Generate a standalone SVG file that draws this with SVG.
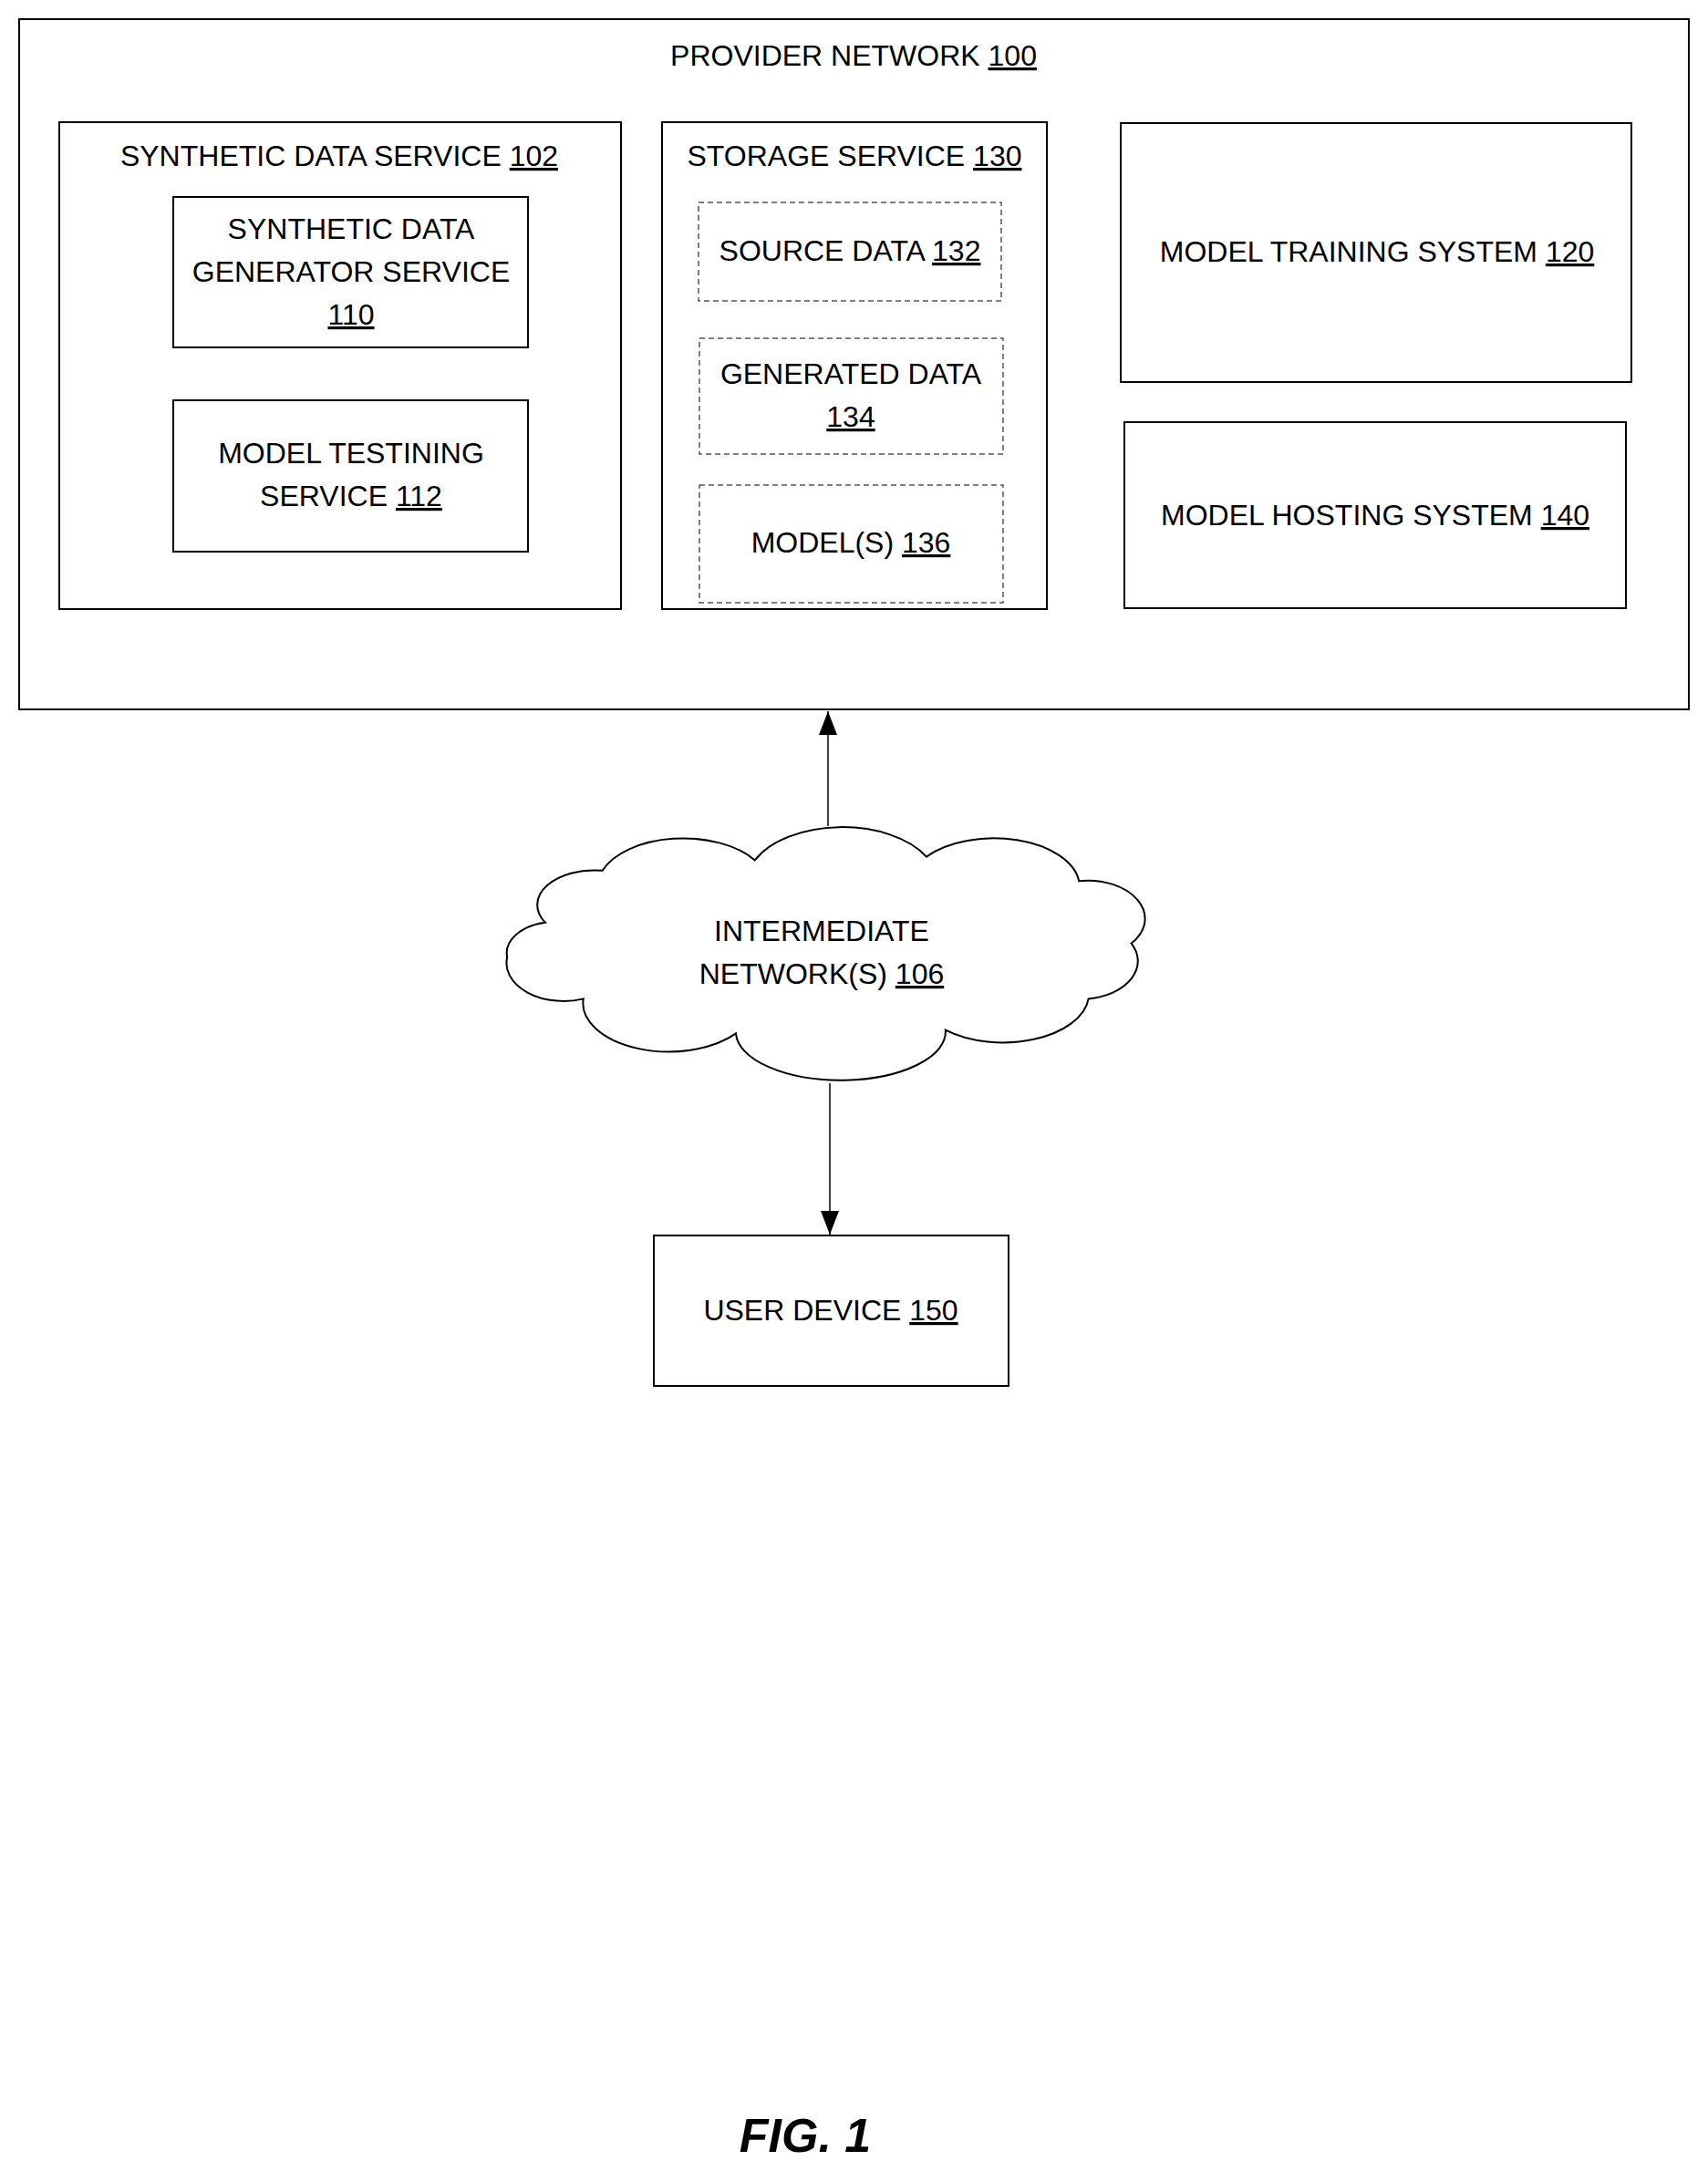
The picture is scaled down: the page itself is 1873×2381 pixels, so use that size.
<svg xmlns="http://www.w3.org/2000/svg" width="1873" height="2381" viewBox="0 0 1873 2381">
<style>
.b{fill:#fff;stroke:#000;stroke-width:2}
.d{fill:#fff;stroke:#555;stroke-width:1.5;stroke-dasharray:6 4}
text{font-family:"Liberation Sans",Arial,sans-serif;font-size:32px;fill:#000;text-anchor:middle}
.u{text-decoration:underline}
</style>
<defs><marker id="a" markerWidth="26" markerHeight="20" refX="26" refY="10" orient="auto" markerUnits="userSpaceOnUse" viewBox="0 0 26 20"><path d="M0,0 L26,10 L0,20 z" fill="#000"/></marker></defs>
<rect width="1873" height="2381" fill="#fff"/>
<g id="provider"><rect class="b" x="21" y="21" width="1831" height="757" stroke-width="3"/><text x="936" y="72">PROVIDER NETWORK <tspan class="u">100</tspan></text></g>
<g id="sds"><rect class="b" x="65" y="134" width="616" height="534"/><text x="372" y="182">SYNTHETIC DATA SERVICE <tspan class="u">102</tspan></text></g>
<g id="gen"><rect class="b" x="190" y="216" width="389" height="165"/><text x="385" y="262">SYNTHETIC DATA</text><text x="385" y="309">GENERATOR SERVICE</text><text x="385" y="356" class="u">110</text></g>
<g id="test"><rect class="b" x="190" y="439" width="389" height="166"/><text x="385" y="508">MODEL TESTINING</text><text x="385" y="555">SERVICE <tspan class="u">112</tspan></text></g>
<g id="storage"><rect class="b" x="726" y="134" width="422" height="534"/><text x="937" y="182">STORAGE SERVICE <tspan class="u">130</tspan></text></g>
<g id="source"><rect class="d" x="766" y="222" width="332" height="108"/><text x="932" y="286">SOURCE DATA <tspan class="u">132</tspan></text></g>
<g id="generated"><rect class="d" x="767" y="371" width="333" height="127"/><text x="933" y="421">GENERATED DATA</text><text x="933" y="468" class="u">134</text></g>
<g id="models"><rect class="d" x="767" y="532" width="333" height="129"/><text x="933" y="606">MODEL(S) <tspan class="u">136</tspan></text></g>
<g id="training"><rect class="b" x="1229" y="135" width="560" height="284"/><text x="1510" y="287">MODEL TRAINING SYSTEM <tspan class="u">120</tspan></text></g>
<g id="hosting"><rect class="b" x="1233" y="463" width="550" height="204"/><text x="1508" y="576">MODEL HOSTING SYSTEM <tspan class="u">140</tspan></text></g>
<g id="cloud"><path class="b" vector-effect="non-scaling-stroke" transform="translate(901,1046) scale(1.045,0.76) translate(-890,-1055)" d="M600 1010 A60 50 0 0 1 660 935 A90 70 0 0 1 820 920 A100 80 0 0 1 1000 915 A90 70 0 0 1 1160 950 A60 55 0 0 1 1215 1040 A60 55 0 0 1 1170 1120 A90 70 0 0 1 1020 1165 A110 70 0 0 1 800 1170 A90 70 0 0 1 640 1120 A60 55 0 0 1 560 1060 A50 45 0 0 1 600 1010 Z"/><text x="901" y="1032">INTERMEDIATE</text><text x="901" y="1079">NETWORK(S) <tspan class="u">106</tspan></text></g>
<g id="user"><rect class="b" x="717" y="1355" width="389" height="165"/><text x="911" y="1448">USER DEVICE <tspan class="u">150</tspan></text></g>
<g id="connectors" stroke="#000" stroke-width="1.5">
<line x1="908" y1="906" x2="908" y2="780" marker-end="url(#a)"/>
<line x1="910" y1="1188" x2="910" y2="1354" marker-end="url(#a)"/>
</g>
<text x="883" y="2360" style="font-size:52px;font-weight:bold;font-style:italic">FIG. 1</text>
</svg>
